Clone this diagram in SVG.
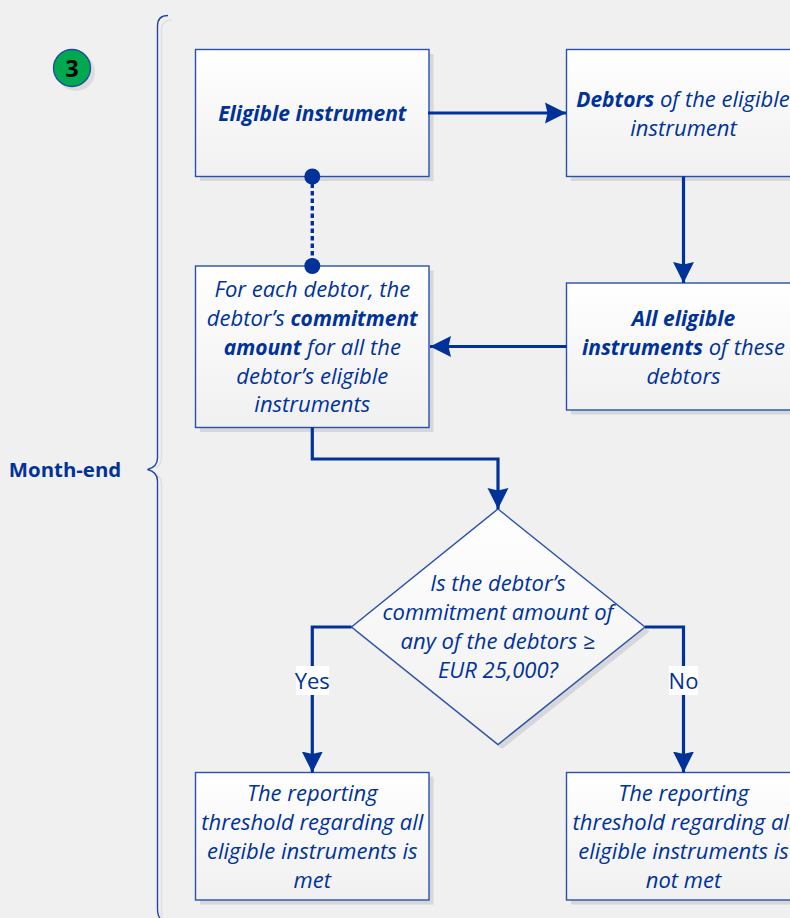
<svg xmlns="http://www.w3.org/2000/svg" width="790" height="918" viewBox="0 0 790 918">
<style>
text{font-family:"Open Sans","Noto Sans","Liberation Sans",sans-serif;fill:#003299;font-size:22px;text-anchor:middle}
.i{font-style:italic}
.b{font-weight:700;font-size:21px}
.box{fill:url(#g);stroke:#2a51a8;stroke-width:1.4}
.sh{fill:#d6d7da}
.c{fill:none;stroke:#003299;stroke-width:3.2}
.brace{fill:none;stroke:#1f48a3;stroke-width:1.4}
.braceS{fill:none;stroke:#e0e0e0;stroke-width:1.6}
</style>
<defs>
<linearGradient id="g" x1="0" y1="0" x2="0" y2="1"><stop offset="0" stop-color="#fff"/><stop offset="1" stop-color="#f0f0f1"/></linearGradient>
<marker id="a" markerUnits="userSpaceOnUse" markerWidth="22" markerHeight="22" refX="21" refY="11" orient="auto"><path d="M0 0.500L21 11L0 21.500L2.500 11Z" fill="#003299"/></marker>
</defs>
<rect width="790" height="918" fill="#f0f0f0"/>
<g id="brace">
<path class="braceS" d="M172 20Q161.500 20 161.500 30V458Q161.500 464 156 468M156 474Q161.500 478 161.500 484V918"/>
<path class="brace" d="M168 15.500Q157.500 15.500 157.500 26V458Q157.500 467 147.500 469.500Q157.500 472 157.500 481V908Q157.500 916 160 918"/>
</g>
<g id="badge">
<circle cx="76" cy="72" r="19" fill="#dcdcdc"/>
<circle cx="72" cy="68" r="18.500" fill="#00a84f" stroke="#1f48a3" stroke-width="1.300"/>
<text x="72" y="76.500" class="b" style="fill:#000;font-size:23.500px">3</text>
</g>
<g id="label-month-end"><text x="65" y="477" class="b" style="font-size:20.400px">Month-end</text></g>
<g id="n1">
<rect class="sh" x="200" y="54" width="233.500" height="127"/>
<rect class="box" x="195.500" y="49.500" width="233.500" height="127"/>
<text x="312.300" y="120.500" class="i b">Eligible instrument</text>
</g>
<g id="n2">
<rect class="sh" x="571" y="54" width="233.500" height="127"/>
<rect class="box" x="566.500" y="49.500" width="233.500" height="127"/>
<text x="683" y="106.700" class="i"><tspan class="b">Debtors</tspan> of the eligible</text>
<text x="683.500" y="135.700" class="i">instrument</text>
</g>
<g id="n3">
<rect class="sh" x="200" y="270.500" width="233.500" height="161.500"/>
<rect class="box" x="195.500" y="266" width="233.500" height="161.500"/>
<text x="312.300" y="296.700" class="i">For each debtor, the</text>
<text x="312.300" y="325.700" class="i">debtor’s <tspan class="b">commitment</tspan></text>
<text x="312.300" y="354.700" class="i"><tspan class="b">amount</tspan> for all the</text>
<text x="312.300" y="383.700" class="i">debtor’s eligible</text>
<text x="312.300" y="411.700" class="i">instruments</text>
</g>
<g id="n4">
<rect class="sh" x="571" y="287.500" width="233.500" height="127"/>
<rect class="box" x="566.500" y="283" width="233.500" height="127"/>
<text x="683.500" y="325.700" class="i b">All eligible</text>
<text x="683.500" y="354.700" class="i"><tspan class="b">instruments</tspan> of these</text>
<text x="683.500" y="383.700" class="i">debtors</text>
</g>
<g id="n5">
<path class="sh" d="M498 514L649.500 631.500L502 749L355 631.500Z"/>
<path class="box" d="M498 509L645 627L498 744.500L351.500 627Z"/>
<text x="498" y="590.700" class="i">Is the debtor’s</text>
<text x="498" y="619.700" class="i">commitment amount of</text>
<text x="498" y="648.700" class="i">any of the debtors ≥</text>
<text x="498" y="677.700" class="i">EUR 25,000?</text>
</g>
<g id="n6">
<rect class="sh" x="200" y="776.500" width="233.500" height="128"/>
<rect class="box" x="195.500" y="772.500" width="233.500" height="127.500"/>
<text x="312.300" y="800.700" class="i">The reporting</text>
<text x="312.300" y="829.700" class="i">threshold regarding all</text>
<text x="312.300" y="858.700" class="i">eligible instruments is</text>
<text x="312.300" y="887.700" class="i">met</text>
</g>
<g id="n7">
<rect class="sh" x="571" y="776.500" width="233.500" height="128"/>
<rect class="box" x="566.500" y="772.500" width="233.500" height="127.500"/>
<text x="683.500" y="800.700" class="i">The reporting</text>
<text x="683.500" y="829.700" class="i">threshold regarding all</text>
<text x="683.500" y="858.700" class="i">eligible instruments is</text>
<text x="683.500" y="887.700" class="i">not met</text>
</g>
<g id="connectors">
<path class="c" d="M428 113H566" marker-end="url(#a)"/>
<path class="c" d="M683.500 176.500V283" marker-end="url(#a)"/>
<path class="c" d="M566.500 346.500H430" marker-end="url(#a)"/>
<path class="c" d="M312.300 427.500V459H498V509" marker-end="url(#a)"/>
<path class="c" d="M351.500 627H312.300V772.500" marker-end="url(#a)"/>
<path class="c" d="M645 627H683.500V772.500" marker-end="url(#a)"/>
<path d="M312.300 176V266" fill="none" stroke="#003299" stroke-width="3.400" stroke-dasharray="4.500 3"/>
<circle cx="312.300" cy="176.500" r="8" fill="#003299"/>
<circle cx="312.300" cy="266" r="8" fill="#003299"/>
<g id="label-yes"><rect x="296" y="666" width="33" height="29" fill="#fff"/><text x="312.300" y="688.500">Yes</text></g>
<g id="label-no"><rect x="669" y="666" width="29" height="29" fill="#fff"/><text x="683.500" y="688.500">No</text></g>
</g>
</svg>
